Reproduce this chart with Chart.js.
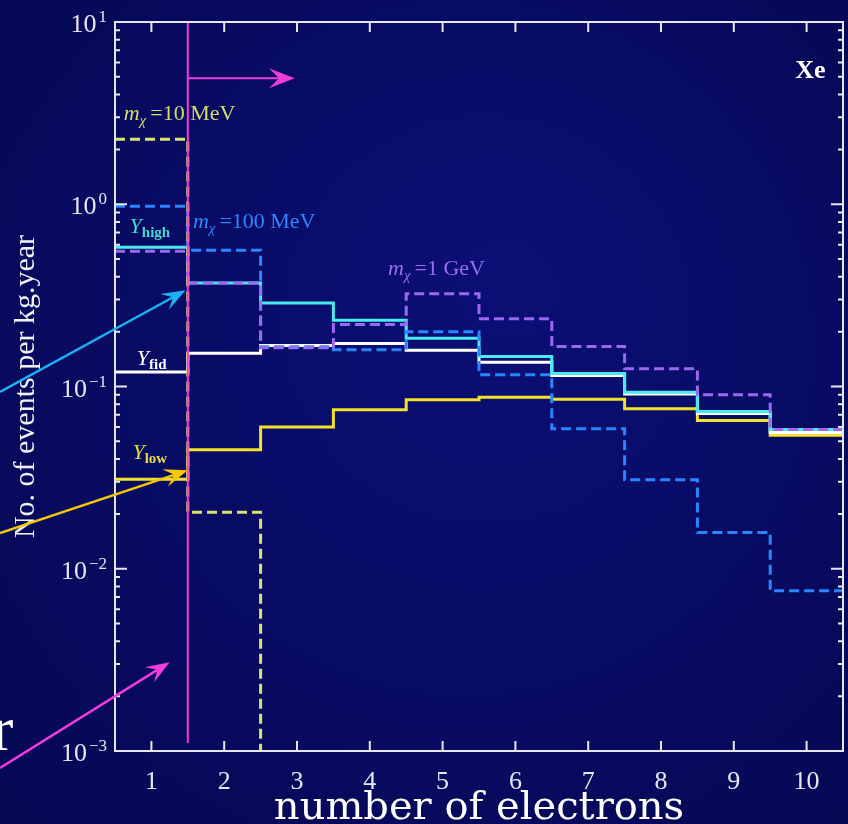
<!DOCTYPE html>
<html>
<head>
<meta charset="utf-8">
<title>No. of events per kg.year vs number of electrons (Xe)</title>
<script src="https://cdn.jsdelivr.net/npm/chart.js@4.4.1/dist/chart.umd.min.js"></script>
<style>
  html, body { margin: 0; padding: 0; background: #070a5e; }
  #wrap { width: 848px; height: 824px; position: relative; }
</style>
</head>
<body>
<div id="wrap"><canvas id="chart"></canvas></div>
<script>
// Data, one value per electron bin
const bins = [1, 2, 3, 4, 5, 6, 7, 8, 9, 10];
const yHigh = [0.58, 0.37, 0.287, 0.231, 0.184, 0.146, 0.118, 0.093, 0.073, 0.058];
const yFid = [0.12, 0.152, 0.168, 0.172, 0.158, 0.136, 0.115, 0.091, 0.071, 0.056];
const yLow = [0.031, 0.045, 0.060, 0.0745, 0.0845, 0.0874, 0.085, 0.0755, 0.065, 0.054];
const m10MeV = [2.27, 0.0204, 0.0001, null, null, null, null, null, null, null];
const m100MeV = [0.975, 0.56, 0.165, 0.159, 0.20, 0.116, 0.0586, 0.0308, 0.0158, 0.00757];
const m1GeV = [0.553, 0.37, 0.163, 0.219, 0.323, 0.235, 0.166, 0.125, 0.090, 0.058];

// Axis ticks
const xTicks = [1, 2, 3, 4, 5, 6, 7, 8, 9, 10];
const yDecades = [-3, -2, -1, 0, 1];

// Threshold marker (cut at 1.5 electrons) and its arrow
const cutX = 1.5;
const cutArrowY = 4.91;
const cutArrowEndX = 2.97;

const axisColor = '#e6e6ef';
const serif = '"Liberation Serif", "DejaVu Serif", serif';

// histogram -> step points at bin edges
function histPoints(vals) {
  const pts = bins.map((b, i) => ({ x: b - 0.5, y: vals[i] }));
  const last = vals[vals.length - 1];
  if (last !== null) pts.push({ x: bins[bins.length - 1] + 0.5, y: last });
  return pts;
}

function stepSet(label, vals, color, dashed, order) {
  return {
    label: label,
    data: histPoints(vals),
    borderColor: color,
    borderWidth: 3,
    borderDash: dashed ? [10, 5] : [],
    stepped: 'before',
    pointRadius: 0,
    fill: false,
    spanGaps: false,
    order: order
  };
}

// text with sub/superscript runs
function drawRuns(ctx, x, y, runs, color) {
  ctx.fillStyle = color;
  ctx.textBaseline = 'alphabetic';
  ctx.textAlign = 'left';
  runs.forEach(r => {
    ctx.font = r.font;
    ctx.fillText(r.text, x, y + (r.dy || 0));
    x += ctx.measureText(r.text).width + (r.gap || 0);
  });
}

function mLabel(mass) {
  return [
    { text: 'm', font: 'italic 22px ' + serif },
    { text: 'χ', font: 'italic 15px ' + serif, dy: 5, gap: 4 },
    { text: '=' + mass, font: '22px ' + serif }
  ];
}
function yLabel(sub) {
  return [
    { text: 'Y', font: 'italic 22px ' + serif },
    { text: sub, font: 'bold 15px ' + serif, dy: 4 }
  ];
}

// in-plot labels, anchored in data coordinates
const labels = [
  { x: 0.62, y: 2.89, runs: mLabel('10 MeV'), color: '#d6dc6a' },
  { x: 1.57, y: 0.738, runs: mLabel('100 MeV'), color: '#2f86ff' },
  { x: 4.25, y: 0.407, runs: mLabel('1 GeV'), color: '#9b6df0' },
  { x: 0.70, y: 0.693, runs: yLabel('high'), color: '#44d6d0' },
  { x: 0.80, y: 0.131, runs: yLabel('fid'), color: '#ffffff' },
  { x: 0.74, y: 0.0399, runs: yLabel('low'), color: '#e8dc3a' }
];

function arrowHead(ctx, x0, y0, x1, y1, len, half) {
  const a = Math.atan2(y1 - y0, x1 - x0);
  const c = Math.cos(a), s = Math.sin(a);
  ctx.beginPath();
  ctx.moveTo(x1, y1);
  ctx.lineTo(x1 - len * c + half * s, y1 - len * s - half * c);
  ctx.lineTo(x1 - len * 0.6 * c, y1 - len * 0.6 * s);
  ctx.lineTo(x1 - len * c - half * s, y1 - len * s + half * c);
  ctx.closePath();
  ctx.fill();
}

function arrow(ctx, x0, y0, x1, y1, color, w, len, half) {
  const a = Math.atan2(y1 - y0, x1 - x0);
  ctx.strokeStyle = color;
  ctx.fillStyle = color;
  ctx.lineWidth = w;
  ctx.beginPath();
  ctx.moveTo(x0, y0);
  ctx.lineTo(x1 - len * 0.6 * Math.cos(a), y1 - len * 0.6 * Math.sin(a));
  ctx.stroke();
  arrowHead(ctx, x0, y0, x1, y1, len, half);
}

// pointer arrows coming in from the slide (start at canvas edge, tip in data coords)
const pointers = [
  { sx: 0, sy: 392, x: 1.47, y: 0.337, color: '#1ab2f0' },
  { sx: 0, sy: 533, x: 1.50, y: 0.0347, color: '#f5c800' },
  { sx: 0, sy: 768, x: 1.25, y: 0.00307, color: '#f03cdc' }
];

const background = {
  id: 'background',
  beforeDraw(chart) {
    const { ctx, width, height } = chart;
    ctx.save();
    const g = ctx.createRadialGradient(width * 0.6, height * 0.35, 40, width * 0.5, height * 0.5, width * 0.8);
    g.addColorStop(0, '#0b0f74');
    g.addColorStop(1, '#05074f');
    ctx.fillStyle = g;
    ctx.fillRect(0, 0, width, height);
    ctx.restore();
  }
};

const markers = {
  id: 'markers',
  afterDatasetsDraw(chart) {
    const { ctx, chartArea: a, scales: { x, y } } = chart;
    ctx.save();
    // cut line
    const cx = x.getPixelForValue(cutX);
    ctx.strokeStyle = '#f03cdc';
    ctx.lineWidth = 2;
    ctx.beginPath();
    ctx.moveTo(cx, a.top);
    ctx.lineTo(cx, a.bottom - 8);
    ctx.stroke();
    const ay = y.getPixelForValue(cutArrowY);
    arrow(ctx, cx, ay, x.getPixelForValue(cutArrowEndX), ay, '#f03cdc', 2, 26, 10);
    // labels
    labels.forEach(l => drawRuns(ctx, x.getPixelForValue(l.x), y.getPixelForValue(l.y), l.runs, l.color));
    ctx.font = 'bold 26px ' + serif;
    ctx.fillStyle = '#ffffff';
    ctx.textAlign = 'right';
    ctx.fillText('Xe', x.getPixelForValue(10.26), y.getPixelForValue(4.91));
    ctx.restore();
  }
};

const frame = {
  id: 'frame',
  afterDraw(chart) {
    const { ctx, chartArea: a, scales: { x, y } } = chart;
    ctx.save();
    ctx.strokeStyle = axisColor;
    ctx.lineWidth = 2;
    ctx.strokeRect(a.left, a.top, a.right - a.left, a.bottom - a.top);
    ctx.beginPath();
    xTicks.forEach(v => {
      const px = x.getPixelForValue(v);
      ctx.moveTo(px, a.bottom); ctx.lineTo(px, a.bottom - 10);
      ctx.moveTo(px, a.top); ctx.lineTo(px, a.top + 10);
    });
    yDecades.forEach(d => {
      for (let k = 1; k <= 9; k++) {
        const v = k * Math.pow(10, d);
        if (v > y.max * 1.0001) break;
        const py = y.getPixelForValue(v);
        const len = k === 1 ? 12 : 5;
        ctx.moveTo(a.left, py); ctx.lineTo(a.left + len, py);
        ctx.moveTo(a.right, py); ctx.lineTo(a.right - len, py);
      }
    });
    ctx.stroke();
    // y tick labels 10^n
    ctx.fillStyle = axisColor;
    ctx.textBaseline = 'alphabetic';
    ctx.textAlign = 'right';
    yDecades.forEach(d => {
      const py = y.getPixelForValue(Math.pow(10, d));
      const exp = d < 0 ? '\u2212' + (-d) : String(d);
      ctx.font = '17px ' + serif;
      ctx.fillText(exp, 107, py);
      const ew = ctx.measureText(exp).width;
      ctx.font = '26px ' + serif;
      ctx.fillText('10', 107 - ew - 2, py + 10);
    });
    // slide pointers
    pointers.forEach(p => {
      arrow(ctx, p.sx, p.sy, x.getPixelForValue(p.x), y.getPixelForValue(p.y), p.color, 2.5, 24, 9);
    });
    ctx.font = '64px ' + serif;
    ctx.fillStyle = '#ffffff';
    ctx.textAlign = 'left';
    ctx.fillText('r', -8, 750);
    ctx.restore();
  }
};

new Chart(document.getElementById('chart'), {
  type: 'line',
  data: {
    datasets: [
      stepSet('m\u03c7=10 MeV', m10MeV, '#dde46c', true, 0),
      stepSet('m\u03c7=1 GeV', m1GeV, '#9a68f2', true, 1),
      stepSet('m\u03c7=100 MeV', m100MeV, '#2a86ff', true, 2),
      stepSet('Y_high', yHigh, '#48eaf0', false, 3),
      stepSet('Y_fid', yFid, '#ffffff', false, 4),
      stepSet('Y_low', yLow, '#f2e22a', false, 5)
    ]
  },
  options: {
    responsive: true,
    maintainAspectRatio: false,
    animation: false,
    layout: { padding: { top: 22, right: 5, bottom: 0, left: 0 } },
    plugins: { legend: { display: false }, tooltip: { enabled: false } },
    scales: {
      x: {
        type: 'linear',
        min: 0.5,
        max: 10.5,
        afterBuildTicks: s => { s.ticks = xTicks.map(v => ({ value: v })); },
        afterFit: s => { s.height = 73; },
        grid: { display: false },
        border: { display: false },
        ticks: { color: axisColor, padding: 8, font: { family: serif, size: 26 } },
        title: {
          display: true,
          text: 'number of electrons',
          color: '#ffffff',
          padding: 0,
          font: { family: '"DejaVu Serif", serif', size: 40, lineHeight: 0.75 }
        }
      },
      y: {
        type: 'logarithmic',
        min: 0.001,
        max: 10,
        afterFit: s => { s.width = 115; },
        grid: { display: false },
        border: { display: false },
        ticks: { display: false },
        title: {
          display: true,
          text: 'No. of events per kg.year',
          color: '#f2f2f6',
          padding: { top: 8, bottom: 0 },
          font: { family: serif, size: 30 }
        }
      }
    }
  },
  plugins: [background, markers, frame]
});
</script>
</body>
</html>
